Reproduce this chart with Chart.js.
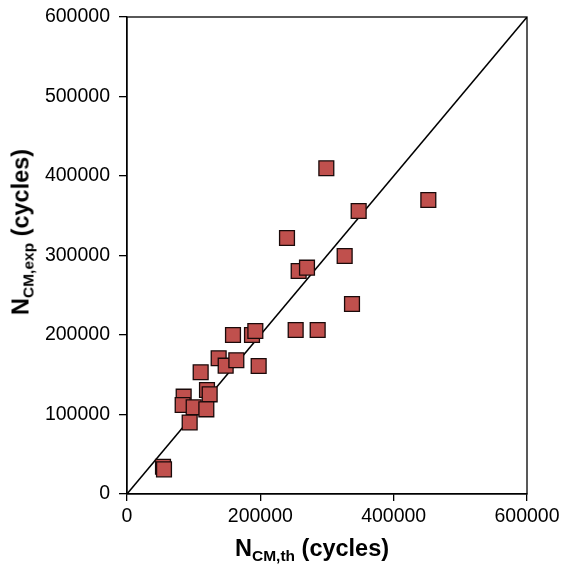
<!DOCTYPE html>
<html>
<head>
<meta charset="utf-8">
<script src="https://cdn.jsdelivr.net/npm/chart.js@4/dist/chart.umd.min.js"></script>
<style>
    body { margin: 0; background: #fff; }
    #wrap { position: relative; width: 561px; height: 564px; font-family: "Liberation Sans", Arial, sans-serif; }
    .titulo { position: absolute; font-weight: bold; font-size: 23.5px; line-height: 27px; color: #000; white-space: nowrap; }
    .titulo sub { font-size: 15.5px; vertical-align: -5px; line-height: 0; }
    #tituloX { left: 235px; top: 535px; }
    #tituloY { left: 21px; top: 232px; transform: translate(-50%, -50%) rotate(-90deg); }
</style>
</head>
<body>
<div id="wrap">
    <canvas id="grafico"></canvas>
    <div class="titulo" id="tituloX">N<sub>CM,th</sub> (cycles)</div>
    <div class="titulo" id="tituloY">N<sub>CM,exp</sub> (cycles)</div>
</div>
<script>
// datos
const nTeorico = [159000, 187500, 192500, 137500, 148000, 164000, 197500, 110500, 120000, 124000,
    85000, 83500, 100000, 119000, 94000, 54000, 55500,
    299000, 452000, 347500, 240000, 326500, 257500, 270000, 337500, 253000, 286000];
const nExperimental = [200000, 200000, 205000, 170700, 161400, 168300, 161000, 153100, 130800, 125400,
    122400, 112000, 109000, 106500, 90000, 34300, 31000,
    409700, 369800, 356000, 322000, 299400, 280500, 284700, 239000, 206300, 206300];
const ticksX = [0, 200000, 400000, 600000];
const ticksY = [0, 100000, 200000, 300000, 400000, 500000, 600000];
const lineaIgual = [0, 600000];

const puntos = nTeorico.map((x, i) => ({ x: x, y: nExperimental[i] }));

// marco alrededor del area del grafico
const marco = {
    id: 'marco',
    afterDraw(chart) {
        const a = chart.chartArea;
        const ctx = chart.ctx;
        ctx.save();
        ctx.strokeStyle = '#000';
        ctx.lineWidth = 1.3;
        ctx.strokeRect(a.left, a.top, a.right - a.left, a.bottom - a.top);
        ctx.restore();
    }
};

const fuente = { family: '"Liberation Sans", Arial, sans-serif', size: 19.5 };

new Chart(document.getElementById('grafico'), {
    type: 'scatter',
    data: {
        datasets: [{
            data: puntos,
            pointStyle: 'rect',
            pointRadius: 10.5,
            pointHoverRadius: 10.5,
            backgroundColor: '#C0504D',
            borderColor: '#1a0a0a',
            borderWidth: 1.3,
            order: 1
        }, {
            data: lineaIgual.map(v => ({ x: v, y: v })),
            showLine: true,
            pointRadius: 0,
            borderColor: '#000',
            borderWidth: 1.5,
            order: 2
        }]
    },
    options: {
        responsive: true,
        maintainAspectRatio: false,
        animation: false,
        layout: { padding: { top: 17, right: 34, left: 0, bottom: 0 } },
        plugins: { legend: { display: false }, tooltip: { enabled: false } },
        scales: {
            x: {
                min: 0, max: 600000,
                afterBuildTicks: s => { s.ticks = ticksX.map(v => ({ value: v })); },
                afterFit: s => { s.height = 70; s.paddingLeft = 0; s.paddingRight = 0; },
                grid: { drawOnChartArea: false, tickLength: 7, color: '#000', lineWidth: 1.3 },
                border: { color: '#000', width: 1.3 },
                ticks: { color: '#000', font: fuente, padding: 4, maxRotation: 0, callback: v => String(v) }
            },
            y: {
                min: 0, max: 600000,
                afterBuildTicks: s => { s.ticks = ticksY.map(v => ({ value: v })); },
                afterFit: s => { s.width = 127; s.paddingTop = 0; s.paddingBottom = 0; },
                grid: { drawOnChartArea: false, tickLength: 8, color: '#000', lineWidth: 1.3 },
                border: { color: '#000', width: 1.3 },
                ticks: { color: '#000', font: fuente, padding: 9, callback: v => String(v) }
            }
        }
    },
    plugins: [marco]
});
</script>
</body>
</html>
